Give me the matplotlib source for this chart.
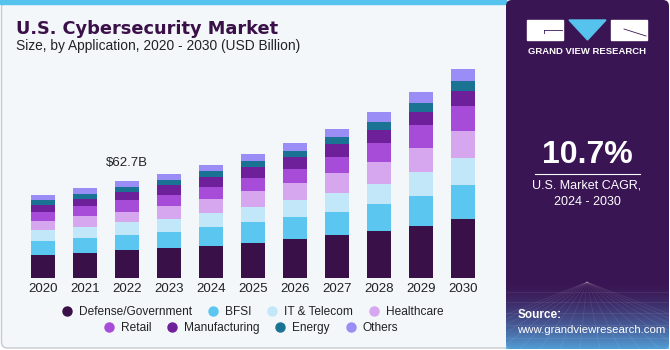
import matplotlib
matplotlib.use('Agg')
import matplotlib.pyplot as plt
from matplotlib.patches import FancyBboxPatch, Rectangle, Polygon
from matplotlib.lines import Line2D
import numpy as np

# данные (USD Billion)
years = ['2020', '2021', '2022', '2023', '2024', '2025', '2026', '2027', '2028', '2029', '2030']
segments = ['Defense/Government', 'BFSI', 'IT & Telecom', 'Healthcare',
            'Retail', 'Manufacturing', 'Energy', 'Others']
defense = [14.9, 16.4, 18.3, 19.5, 21.0, 22.9, 25.3, 27.7, 30.3, 33.9, 38.3]
bfsi = [9.1, 9.5, 9.7, 10.6, 11.9, 13.2, 14.3, 15.4, 17.5, 19.5, 22.1]
it_telecom = [7.3, 7.3, 8.0, 8.4, 9.3, 9.7, 10.8, 12.3, 13.2, 15.4, 17.1]
healthcare = [5.8, 6.9, 7.1, 8.2, 9.3, 10.8, 11.2, 12.5, 14.3, 15.6, 17.5]
retail = [6.0, 6.7, 7.3, 7.3, 7.6, 8.4, 9.3, 10.8, 12.3, 14.9, 16.2]
manufacturing = [4.5, 4.7, 5.2, 6.0, 6.3, 6.7, 7.6, 8.2, 8.4, 8.6, 9.7]
energy = [3.0, 3.0, 3.4, 3.2, 3.7, 4.1, 4.1, 4.5, 5.4, 5.8, 6.9]
others = [3.2, 3.7, 3.7, 4.5, 4.1, 4.7, 5.0, 5.4, 6.0, 6.9, 7.6]
series = [defense, bfsi, it_telecom, healthcare, retail, manufacturing, energy, others]
colors = ['#3A1048', '#5BC6F0', '#C2E7F8', '#D6A6EE', '#A64CD8', '#6E1F9A', '#1A7392', '#9A8EF6']

cagr = '10.7%'
W, H = 670, 350

plt.rcParams['font.family'] = ['Liberation Sans', 'DejaVu Sans']

fig = plt.figure(figsize=(6.7, 3.5), dpi=100)
fig.patch.set_facecolor('white')

# фон в пиксельных координатах
bg = fig.add_axes([0, 0, 1, 1])
bg.set_xlim(0, W)
bg.set_ylim(H, 0)
bg.axis('off')
bg.add_patch(FancyBboxPatch((1.5, 1.5), 540, 346.5, boxstyle='round,pad=0,rounding_size=6',
                            fc='#F3F7FA', ec='#C6CACF', lw=1))
bg.add_patch(Rectangle((0, 0), 506, 4, color='#56C2EE'))

# правая панель
bg.add_patch(FancyBboxPatch((506, 0), 163, 349, boxstyle='round,pad=0,rounding_size=6',
                            fc='#3A1553', ec='none'))
grad = np.zeros((100, 2, 4))
grad[..., :3] = np.array([0.33, 0.66, 0.88])
grad[..., 3] = np.linspace(0, 0.95, 100)[:, None] ** 1.5
bg.imshow(grad, extent=[506, 669, 349, 282], aspect='auto', zorder=1)
for xx in np.linspace(420, 760, 18):
    bg.plot([587, xx], [282, 349], color='white', lw=0.4, alpha=0.12, zorder=1)
for yy in [292, 302, 313, 325, 338]:
    bg.plot([506, 669], [yy, yy], color='white', lw=0.4, alpha=0.12, zorder=1)

# логотип
bg.add_patch(Rectangle((527, 20), 36, 20, color='white', zorder=2))
bg.add_patch(Polygon([(569, 20), (606, 20), (587.5, 40)], color='#56C2EE', zorder=2))
bg.add_patch(Rectangle((611, 20), 36, 20, color='white', zorder=2))
bg.plot([544, 562], [30, 30], color='#3A1553', lw=0.6, zorder=3)
bg.plot([544, 544], [30, 33], color='#3A1553', lw=0.6, zorder=3)
bg.plot([624, 646], [29, 36], color='#3A1553', lw=0.6, zorder=3)
bg.text(587, 51, 'GRAND VIEW RESEARCH', color='white', fontsize=6.8, fontweight='bold',
        ha='center', va='center', zorder=3)

bg.text(587, 155, cagr, color='white', fontsize=23, fontweight='bold', ha='center', va='center', zorder=3)
bg.plot([535, 640], [173.5, 173.5], color='white', lw=0.8, zorder=3)
bg.text(587, 186, 'U.S. Market CAGR,', color='white', fontsize=9, ha='center', va='center', zorder=3)
bg.text(587, 202, '2024 - 2030', color='white', fontsize=9, ha='center', va='center', zorder=3)
bg.text(518, 315, 'Source:', color='white', fontsize=8.5, fontweight='bold', ha='left', va='center', zorder=3)
bg.text(517, 330, 'www.grandviewresearch.com', color='white', fontsize=8.2, ha='left', va='center', zorder=3)

# заголовок
bg.text(16, 28.5, 'U.S. Cybersecurity Market', color='#3A1048', fontsize=12.8, fontweight='heavy',
        family=['DejaVu Sans'], ha='left', va='center')
bg.text(16, 46, 'Size, by Application, 2020 - 2030 (USD Billion)', color='#222222', fontsize=9.9,
        ha='left', va='center')

# столбцы
ax = fig.add_axes([22 / W, 1 - 278 / H, 462 / W, 216 / H])
ax.patch.set_alpha(0)
x = np.arange(len(years))
bottom = np.zeros(len(years))
for vals, c, name in zip(series, colors, segments):
    ax.bar(x, vals, width=0.58, bottom=bottom, color=c, linewidth=0, label=name)
    bottom += np.array(vals)
ax.set_xlim(-0.5, len(years) - 0.5)
ax.set_ylim(0, 140)
ax.set_xticks(x, years)
ax.tick_params(axis='x', length=0, pad=3.5, labelsize=9.5, labelcolor='#222222')
ax.set_yticks([])
for s in ax.spines.values():
    s.set_visible(False)

ax.annotate(f'${bottom[2]:.1f}B', (2, bottom[2]), xytext=(0, 18), textcoords='offset pixels',
            ha='center', va='center', fontsize=9.5, color='#222222')

# легенда в две строки
handles = [Line2D([], [], marker='o', ls='none', ms=6.5, mfc=c, mec=c) for c in colors]
leg1 = fig.legend(handles[:4], segments[:4], loc='center', bbox_to_anchor=(253 / W, 1 - 312 / H),
                  ncol=4, frameon=False, fontsize=8.6, handlelength=0.8, handletextpad=0.6,
                  columnspacing=1.35, labelcolor='#222222')
leg2 = fig.legend(handles[4:], segments[4:], loc='center', bbox_to_anchor=(251 / W, 1 - 328 / H),
                  ncol=4, frameon=False, fontsize=8.6, handlelength=0.8, handletextpad=0.6,
                  columnspacing=1.35, labelcolor='#222222')

fig.savefig('out.png', dpi=100)
